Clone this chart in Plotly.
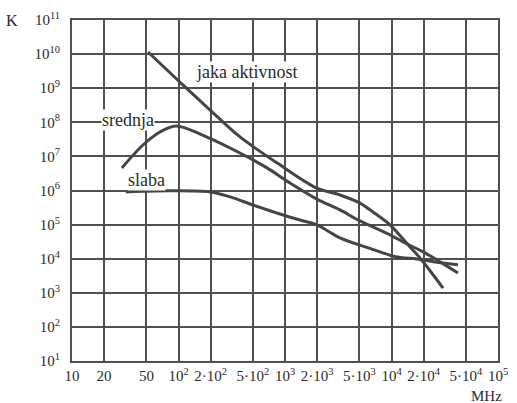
import plotly.graph_objects as go

# frequencies (MHz) and K values
jaka_f = [51.8, 103, 198, 378, 841, 1995, 3281, 5058, 6699, 9683, 14930, 18530, 30480]
jaka_k = [1.15e10, 1.51e9, 2.29e8, 3.72e7, 6.46e6, 1.17e6, 7.4e5, 4.27e5, 2.34e5, 9.8e4, 2.19e4, 1.05e4, 1.38e3]

srednja_f = [29.4, 46.4, 67, 95, 185, 378, 678, 1114, 1995, 3281, 5058, 9683, 12820, 20650, 42070]
srednja_k = [4.6e6, 2.16e7, 5.2e7, 7.8e7, 3.7e7, 1.26e7, 4.6e6, 1.66e6, 5.6e5, 2.7e5, 1.28e5, 5.0e4, 3.1e4, 1.48e4, 3.8e3]

slaba_f = [32, 83, 198, 305, 501, 897, 1384, 1995, 3281, 6280, 11270, 17340, 26730, 42070]
slaba_k = [9.1e5, 9.8e5, 9.1e5, 6.5e5, 3.76e5, 2.05e5, 1.36e5, 9.8e4, 4.1e4, 2.0e4, 1.12e4, 9.8e3, 7.9e3, 6.6e3]

x_tickvals = [10, 20, 50, 100, 200, 500, 1000, 2000, 5000, 10000, 20000, 50000, 100000]
x_ticktext = ["10", "20", "50", "10<sup>2</sup>", "2·10<sup>2</sup>", "5·10<sup>2</sup>",
              "10<sup>3</sup>", "2·10<sup>3</sup>", "5·10<sup>3</sup>", "10<sup>4</sup>",
              "2·10<sup>4</sup>", "5·10<sup>4</sup>", "10<sup>5</sup>"]
y_exponents = list(range(1, 12))
y_tickvals = [10 ** e for e in y_exponents]
y_ticktext = [f"10<sup>{e}</sup>" for e in y_exponents]

line_color = "#454545"
grid_color = "#505050"
text_color = "#2a2a2a"
font_family = "Liberation Serif, Times New Roman, serif"

fig = go.Figure()
for xs, ys in [(jaka_f, jaka_k), (srednja_f, srednja_k), (slaba_f, slaba_k)]:
    fig.add_trace(go.Scatter(x=xs, y=ys, mode="lines",
                             line=dict(color=line_color, width=3, shape="spline", smoothing=0.9),
                             showlegend=False, hoverinfo="skip"))

fig.update_layout(
    width=517, height=403,
    margin=dict(l=72, r=19, t=20, b=42),
    paper_bgcolor="white", plot_bgcolor="white",
    font=dict(family=font_family, size=15, color=text_color),
    showlegend=False,
)
fig.update_xaxes(type="log", range=[1, 5], tickvals=x_tickvals, ticktext=x_ticktext,
                 showgrid=True, gridcolor=grid_color, gridwidth=1.6,
                 showline=True, linecolor=grid_color, linewidth=2, mirror=True,
                 ticks="", ticklabelstandoff=0, zeroline=False, tickangle=0,
                 automargin=False, tickfont=dict(family=font_family, size=15, color=text_color))
fig.update_yaxes(type="log", range=[1, 11], tickvals=y_tickvals, ticktext=y_ticktext,
                 showgrid=True, gridcolor=grid_color, gridwidth=1.6,
                 showline=True, linecolor=grid_color, linewidth=2, mirror=True,
                 ticks="", ticklabelstandoff=7, zeroline=False,
                 automargin=False, tickfont=dict(family=font_family, size=15, color=text_color))

ann_font = dict(family=font_family, size=18, color=text_color)
fig.add_annotation(x=2.643, y=9.475, xref="x", yref="y", text="jaka aktivnost",
                   showarrow=False, bgcolor="white", font=ann_font, borderpad=0)
fig.add_annotation(x=1.526, y=8.07, xref="x", yref="y", text="srednja",
                   showarrow=False, bgcolor="white", font=ann_font, borderpad=0)
fig.add_annotation(x=1.695, y=6.31, xref="x", yref="y", text="slaba",
                   showarrow=False, bgcolor="white", font=ann_font, borderpad=0)
fig.add_annotation(x=-0.141, y=1.0, xref="paper", yref="paper", text="K",
                   xanchor="center", yanchor="middle",
                   showarrow=False, font=dict(family=font_family, size=16, color=text_color))
fig.add_annotation(x=0.974, y=-0.103, xref="paper", yref="paper", text="MHz",
                   xanchor="center", yanchor="middle",
                   showarrow=False, font=dict(family=font_family, size=15, color=text_color))

fig.write_html("out.html", config={"displayModeBar": False},
               post_script="document.body.style.margin='0';")
